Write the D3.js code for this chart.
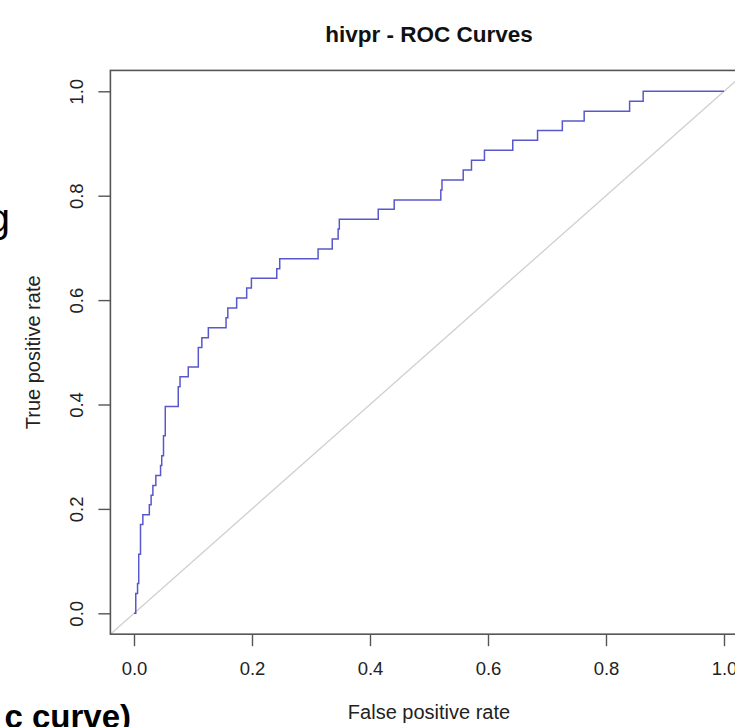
<!DOCTYPE html>
<html>
<head>
<meta charset="utf-8">
<script src="https://cdn.jsdelivr.net/npm/d3@7"></script>
<style>
  html, body { margin: 0; padding: 0; background: #ffffff; }
  svg { display: block; }
  text { font-family: "Liberation Sans", Arial, Helvetica, sans-serif; }
</style>
</head>
<body>
<svg id="chart" width="735" height="727"></svg>
<script>
// ---- data ----
const chartTitle = "hivpr - ROC Curves";
const xLabel = "False positive rate";
const yLabel = "True positive rate";
const xTicks = [0.0, 0.2, 0.4, 0.6, 0.8, 1.0];
const yTicks = [0.0, 0.2, 0.4, 0.6, 0.8, 1.0];
// ROC step vertices: at each fpr the curve rises to the given tpr
const fpr = [0.000, 0.003, 0.006, 0.008, 0.011, 0.015, 0.026, 0.029, 0.032, 0.037,
             0.045, 0.047, 0.050, 0.053, 0.075, 0.078, 0.092, 0.109, 0.115, 0.126,
             0.156, 0.159, 0.174, 0.191, 0.199, 0.242, 0.247, 0.312, 0.336, 0.346,
             0.348, 0.414, 0.441, 0.520, 0.522, 0.558, 0.572, 0.594, 0.642, 0.684,
             0.726, 0.763, 0.840, 0.863, 1.000];
const tpr = [0.000, 0.038, 0.057, 0.113, 0.170, 0.189, 0.208, 0.226, 0.245, 0.264,
             0.283, 0.302, 0.340, 0.396, 0.434, 0.453, 0.472, 0.509, 0.528, 0.547,
             0.566, 0.585, 0.604, 0.623, 0.642, 0.660, 0.679, 0.698, 0.717, 0.736,
             0.755, 0.774, 0.792, 0.811, 0.830, 0.849, 0.868, 0.887, 0.906, 0.925,
             0.943, 0.962, 0.981, 1.000, 1.000];
// chance diagonal
const diagX = [-0.04, 1.04];
const diagY = [-0.04, 1.04];
// surrounding slide text fragments visible in the crop
const sideTextTop = "g";
const sideTextBottom = "c curve)";

// ---- layout ----
const svg = d3.select("#chart");
const x = d3.scaleLinear().domain([0, 1]).range([134, 724]);
const y = d3.scaleLinear().domain([0, 1]).range([613.3, 91.3]);
const x0 = x(-0.04), x1 = x(1.04), y0 = y(-0.04), y1 = y(1.04);

svg.append("defs").append("clipPath").attr("id", "plotclip")
  .append("rect").attr("x", x0).attr("y", y1).attr("width", x1 - x0).attr("height", y0 - y1);

// diagonal
svg.append("line")
  .attr("clip-path", "url(#plotclip)")
  .attr("x1", x(diagX[0])).attr("y1", y(diagY[0]))
  .attr("x2", x(diagX[1])).attr("y2", y(diagY[1]))
  .attr("stroke", "#cfcfcf").attr("stroke-width", 1.3);

// ROC curve
const pts = fpr.map((f, i) => [f, tpr[i]]);
svg.append("path")
  .datum(pts)
  .attr("clip-path", "url(#plotclip)")
  .attr("fill", "none")
  .attr("stroke", "#5858cc")
  .attr("stroke-width", 1.5)
  .attr("d", d3.line().x(d => x(d[0])).y(d => y(d[1])).curve(d3.curveStepAfter));

// box
svg.append("rect")
  .attr("x", x0).attr("y", y1).attr("width", x1 - x0).attr("height", y0 - y1)
  .attr("fill", "none").attr("stroke", "#555").attr("stroke-width", 1.6);

// x axis
const gx = svg.append("g").attr("transform", `translate(0,${y0})`)
  .call(d3.axisBottom(x).tickValues(xTicks).tickFormat(d3.format(".1f"))
        .tickSize(12).tickPadding(16));
gx.select(".domain").remove();
gx.selectAll(".tick line").attr("stroke", "#555").attr("stroke-width", 1.4);
gx.selectAll(".tick text").attr("font-size", 18.5).attr("fill", "#222")
  .attr("font-family", "Liberation Sans, Arial, sans-serif");

// y axis
const gy = svg.append("g").attr("transform", `translate(${x0},0)`)
  .call(d3.axisLeft(y).tickValues(yTicks).tickFormat(d3.format(".1f")).tickSize(12));
gy.select(".domain").remove();
gy.selectAll(".tick line").attr("stroke", "#555").attr("stroke-width", 1.4);
gy.selectAll(".tick text")
  .attr("font-size", 18.5).attr("fill", "#222")
  .attr("font-family", "Liberation Sans, Arial, sans-serif")
  .attr("x", 0).attr("y", -27).attr("dy", 0)
  .attr("text-anchor", "middle")
  .attr("transform", "rotate(-90)");

// title
svg.append("text")
  .attr("x", (x0 + x1) / 2).attr("y", 42)
  .attr("text-anchor", "middle")
  .attr("font-size", 22.5).attr("font-weight", "bold").attr("fill", "#111")
  .text(chartTitle);

// axis labels
svg.append("text")
  .attr("x", (x0 + x1) / 2).attr("y", 719)
  .attr("text-anchor", "middle")
  .attr("font-size", 20).attr("fill", "#222")
  .text(xLabel);

svg.append("text")
  .attr("transform", `translate(40,${(y0 + y1) / 2}) rotate(-90)`)
  .attr("text-anchor", "middle")
  .attr("font-size", 20).attr("fill", "#222")
  .text(yLabel);

// slide text fragments
svg.append("text")
  .attr("x", 10).attr("y", 232)
  .attr("text-anchor", "end")
  .attr("font-size", 40).attr("fill", "#000")
  .text(sideTextTop);

svg.append("text")
  .attr("x", 131).attr("y", 728)
  .attr("text-anchor", "end")
  .attr("font-size", 33).attr("font-weight", "bold").attr("fill", "#000")
  .text(sideTextBottom);
</script>
</body>
</html>
